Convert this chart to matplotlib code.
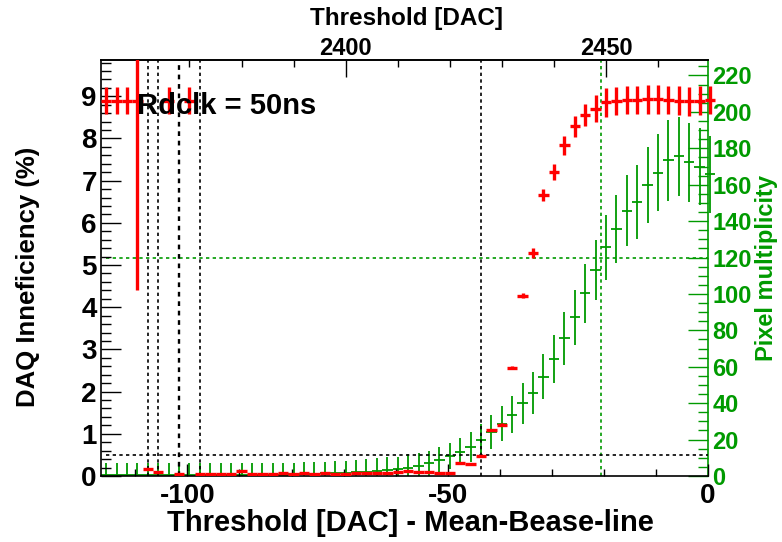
import matplotlib
matplotlib.use("Agg")
import matplotlib.pyplot as plt
from matplotlib.ticker import MultipleLocator, FixedLocator
from matplotlib.transforms import Bbox, TransformedBbox
import numpy as np

plt.rcParams['font.family'] = ['Liberation Sans', 'DejaVu Sans']
plt.rcParams['font.weight'] = 'bold'
plt.rcParams['axes.unicode_minus'] = False

# ---------------- data ----------------
baseline = 2469.6  # mean base-line [DAC]
dac = list(range(2354, 2471, 2))

ineff = [8.9, 8.9, 8.9, 8.9, 0.16, 0.10, 8.9, 0.05, 8.9, 0.04,
         0.04, 0.04, 0.04, 0.13, 0.05, 0.05, 0.05, 0.06, 0.05, 0.06,
         0.05, 0.06, 0.05, 0.05, 0.07, 0.07, 0.08, 0.06, 0.10, 0.12,
         0.09, 0.10, 0.06, 0.08, 0.31, 0.29, 0.48, 1.09, 1.22, 2.57,
         4.27, 5.28, 6.66, 7.21, 7.84, 8.29, 8.55, 8.71, 8.86, 8.89,
         8.91, 8.91, 8.93, 8.93, 8.91, 8.90, 8.88, 8.90, 8.91]
ineff_err = [0.32, 0.32, 0.32, 4.5, 0.0, 0.0, 0.32, 0.0, 0.32, 0.0,
             0.0, 0.0, 0.0, 0.0, 0.0, 0.0, 0.0, 0.0, 0.0, 0.0,
             0.0, 0.0, 0.0, 0.0, 0.0, 0.0, 0.0, 0.0, 0.0, 0.0,
             0.0, 0.0, 0.0, 0.0, 0.02, 0.02, 0.02, 0.03, 0.03, 0.04,
             0.06, 0.12, 0.14, 0.19, 0.22, 0.25, 0.26, 0.32, 0.34, 0.34,
             0.34, 0.34, 0.34, 0.34, 0.34, 0.34, 0.34, 0.34, 0.34]

mult = [0.6, 0.6, 0.6, 0.6, 0.6, 0.6, 0.6, 0.6, 0.6, 0.6,
        0.6, 0.6, 0.6, 0.6, 0.6, 0.6, 0.6, 0.6, 1.0, 1.1,
        1.3, 1.5, 1.6, 1.8, 2.0, 2.4, 2.9, 3.3, 3.8, 4.4,
        5.6, 7.0, 8.7, 11.0, 13.4, 16.0, 19.8, 24.4, 28.6, 33.7,
        39.9, 45.4, 54.6, 64.3, 75.6, 87.2, 100.4, 113.2, 125.7, 135.7,
        145.8, 150.5, 159.9, 166.7, 173.3, 175.5, 172.2, 170.0, 165.8]
mult_err = [6.4, 6.4, 6.4, 6.4, 6.4, 6.4, 6.4, 6.4, 6.4, 6.4,
            6.4, 6.4, 6.4, 6.4, 6.4, 6.4, 6.4, 6.4, 6.4, 6.4,
            6.4, 6.4, 6.4, 6.5, 6.6, 6.8, 7.0, 7.3, 6.8, 7.6,
            7.0, 7.0, 7.0, 7.0, 7.3, 8.2, 8.8, 9.3, 9.6, 10.3,
            11.2, 11.6, 12.5, 13.3, 14.4, 15.1, 16.1, 16.5, 17.9, 18.6,
            19.7, 20.2, 21.0, 21.2, 22.0, 21.8, 21.7, 21.0, 21.2]

bin_half_width = 1.0
black_marks_dac = [2362, 2364, 2368, 2372, 2426]
black_marks_width = [1.2, 1.2, 1.7, 1.2, 1.2]
ineff_threshold = 0.5
green_mark_dac = 2449
mult_threshold = 120

RED = '#ff0000'
GREEN = '#009a00'

x = np.array(dac) - baseline

# ---------------- figure ----------------
W, H = 782, 542
fig = plt.figure(figsize=(W / 100, H / 100), dpi=100)
L, R, B, T = 101, 708, 476, 60
ax = fig.add_axes([L / W, 1 - B / H, (R - L) / W, (B - T) / H])
ax2 = ax.twinx()
ax.set_zorder(ax2.get_zorder() + 1)
ax.patch.set_visible(False)

ax.set_xlim(dac[0] - bin_half_width - baseline, 0)
ax.set_ylim(0, 9.86)
ax2.set_ylim(0, 228.5)

clip_ax = TransformedBbox(Bbox([[0, 0], [1.03, 1]]), ax.transAxes)

# green multiplicity
eb2 = ax2.errorbar(x, mult, yerr=mult_err, xerr=bin_half_width, fmt='none',
                   ecolor=GREEN, elinewidth=1.3, capsize=0)
for c in eb2.lines[2]:
    c.set_clip_box(clip_ax)

# red inefficiency
eb = ax.errorbar(x, ineff, yerr=ineff_err, xerr=bin_half_width, fmt='none',
                 ecolor=RED, elinewidth=2.4, capsize=0, zorder=3)
for c in eb.lines[2]:
    c.set_clip_box(clip_ax)

# reference lines
for d, lw in zip(black_marks_dac, black_marks_width):
    ax.axvline(d - baseline, color='black', lw=lw, ls=(0, (2, 2)), zorder=2)
ax.hlines(ineff_threshold, x[0], 0, color='black', lw=1.2, ls=(0, (2, 2)), zorder=2)
ax2.axvline(green_mark_dac - baseline, color=GREEN, lw=1.2, ls=(0, (2, 2)))
ax2.hlines(mult_threshold, x[0], 0, color=GREEN, lw=1.2, ls=(0, (2, 2)))

# ---------------- axes styling ----------------
for s in ['left', 'bottom', 'top']:
    ax.spines[s].set_linewidth(1.2)
ax.spines['right'].set_visible(False)
for s in ['left', 'bottom', 'top']:
    ax2.spines[s].set_visible(False)
ax2.spines['right'].set_color(GREEN)
ax2.spines['right'].set_linewidth(1.2)

ax.xaxis.set_major_locator(FixedLocator([-100, -50, 0]))
ax.xaxis.set_minor_locator(MultipleLocator(10))
ax.yaxis.set_major_locator(MultipleLocator(1))
ax.yaxis.set_minor_locator(MultipleLocator(0.2))
ax.tick_params(axis='x', which='major', direction='in', length=9, width=1.0,
               labelsize=20, pad=5, top=False)
ax.tick_params(axis='x', which='minor', direction='in', length=5, width=1.0, top=False)
ax.tick_params(axis='y', which='major', direction='in', length=14.5, width=1.0,
               labelsize=20, pad=3, right=False)
ax.tick_params(axis='y', which='minor', direction='in', length=7.2, width=1.0, right=False)

ax2.yaxis.set_major_locator(MultipleLocator(20))
ax2.yaxis.set_minor_locator(MultipleLocator(5))
ax2.tick_params(axis='y', which='major', direction='in', length=14.5, width=1.0,
                color=GREEN, labelcolor=GREEN, labelsize=17, pad=3)
ax2.tick_params(axis='y', which='minor', direction='in', length=7.2, width=1.0,
                color=GREEN)

secax = ax.secondary_xaxis('top', functions=(lambda v: v + baseline,
                                             lambda v: v - baseline))
secax.set_xticks([2400, 2450])
secax.xaxis.set_minor_locator(MultipleLocator(10))
secax.tick_params(which='major', direction='in', length=12, width=1.0,
                  labelsize=17, pad=0)
secax.tick_params(which='minor', direction='in', length=5, width=1.0)
secax.spines['top'].set_linewidth(1.2)

# titles
ax.set_xlabel('Threshold [DAC] - Mean-Bease-line', fontsize=21, fontweight='bold')
ax.xaxis.set_label_coords((410 - L) / (R - L), (B - 523) / (B - T),
                          transform=ax.transAxes)
ax.xaxis.label.set_verticalalignment('center')
ax.set_ylabel('DAQ Inneficiency (%)', fontsize=18.5, fontweight='bold')
ax.yaxis.set_label_coords((28 - L) / (R - L), (B - 277) / (B - T),
                          transform=ax.transAxes)
ax.yaxis.label.set_verticalalignment('center')
ax2.set_ylabel('Pixel multiplicity', fontsize=17, fontweight='bold', color=GREEN)
ax2.yaxis.set_label_coords((767 - L) / (R - L), (B - 268) / (B - T),
                           transform=ax.transAxes)
ax2.yaxis.label.set_verticalalignment('center')
secax.set_xlabel('Threshold [DAC]', fontsize=17.5, fontweight='bold')
secax.xaxis.set_label_coords((407 - L) / (R - L), (B - 19) / (B - T),
                             transform=ax.transAxes)
secax.xaxis.label.set_verticalalignment('center')

ax.text((137 - L) / (R - L), (B - 114) / (B - T), 'Rdclk = 50ns',
        transform=ax.transAxes, fontsize=21, fontweight='bold',
        ha='left', va='baseline', zorder=5)

fig.savefig('out.png', dpi=100)
